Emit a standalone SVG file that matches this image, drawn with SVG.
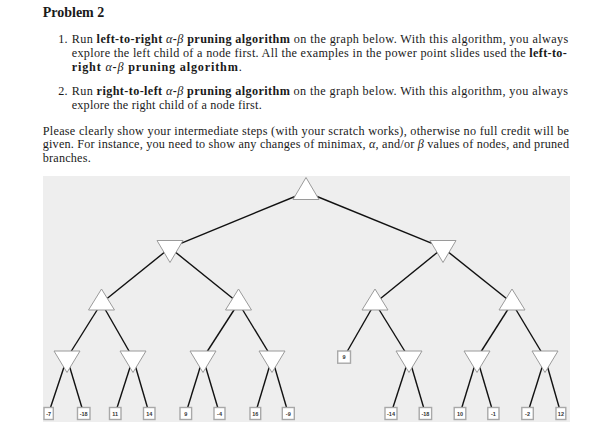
<svg xmlns="http://www.w3.org/2000/svg" width="614" height="434" viewBox="0 0 614 434">
<style>
.t{font-family:"Liberation Serif","Times New Roman",serif;font-size:12.2px;fill:#1a1a1a}
.b{font-weight:bold}
.m{font-style:italic}
.h{font-family:"Liberation Serif","Times New Roman",serif;font-size:14px;font-weight:bold;fill:#1a1a1a}
.max,.min{fill:#ffffff;stroke:#9a9a9a;stroke-width:1}
.leaf rect{fill:#ffffff;stroke:#a8a8a8;stroke-width:1.4}
.leaf text{font-family:"Liberation Sans",Arial,sans-serif;font-size:5.5px;font-weight:bold;fill:#333;text-anchor:middle}
.e{stroke:#111;stroke-width:1.4;fill:none}
</style>
<rect width="614" height="434" fill="#ffffff"/>
<g id="text">
<text class="h" x="42.7" y="16.7">Problem 2</text>
<text class="t" x="58.3" y="42.7">1.</text>
<text class="t" x="71.7" y="42.7" textLength="496.6">Run <tspan class="b">left-to-right</tspan> <tspan class="m">α</tspan><tspan class="b">-</tspan><tspan class="m">β</tspan> <tspan class="b">pruning algorithm</tspan> on the graph below. With this algorithm, you always</text>
<text class="t" x="71.7" y="56.6" textLength="495">explore the left child of a node first. All the examples in the power point slides used the <tspan class="b">left-to-</tspan></text>
<text class="t" x="71.7" y="71" textLength="170"><tspan class="b">right</tspan> <tspan class="m">α</tspan><tspan class="b">-</tspan><tspan class="m">β</tspan> <tspan class="b">pruning algorithm</tspan>.</text>
<text class="t" x="58.3" y="94.7">2.</text>
<text class="t" x="71.7" y="94.7" textLength="496.3">Run <tspan class="b">right-to-left</tspan> <tspan class="m">α</tspan><tspan class="b">-</tspan><tspan class="m">β</tspan> <tspan class="b">pruning algorithm</tspan> on the graph below. With this algorithm, you always</text>
<text class="t" x="71.7" y="108.7" textLength="190">explore the right child of a node first.</text>
<text class="t" x="42.7" y="134.7" textLength="526.3">Please clearly show your intermediate steps (with your scratch works), otherwise no full credit will be</text>
<text class="t" x="42.7" y="148.4" textLength="526.3">given. For instance, you need to show any changes of minimax, <tspan class="m">α</tspan>, and/or <tspan class="m">β</tspan> values of nodes, and pruned</text>
<text class="t" x="42.7" y="162.2" textLength="48">branches.</text>
</g>
<rect id="panel" x="43" y="176" width="527" height="246" fill="#eeeeee"/>
<g id="connectors">
<line class="e" x1="306" y1="192" x2="170" y2="247.8"/>
<line class="e" x1="306" y1="192" x2="443" y2="247.8"/>
<line class="e" x1="170" y1="247.8" x2="101.5" y2="303"/>
<line class="e" x1="170" y1="247.8" x2="238.5" y2="303"/>
<line class="e" x1="443" y1="247.8" x2="375" y2="303"/>
<line class="e" x1="443" y1="247.8" x2="512" y2="303"/>
<line class="e" x1="101.5" y1="303" x2="67" y2="358"/>
<line class="e" x1="101.5" y1="303" x2="133" y2="358"/>
<line class="e" x1="238.5" y1="303" x2="203" y2="358"/>
<line class="e" x1="238.5" y1="303" x2="272" y2="358"/>
<line class="e" x1="375" y1="303" x2="344" y2="357"/>
<line class="e" x1="375" y1="303" x2="409" y2="358"/>
<line class="e" x1="512" y1="303" x2="477" y2="358"/>
<line class="e" x1="512" y1="303" x2="545" y2="358"/>
<line class="e" x1="67" y1="358" x2="48.5" y2="413.5"/>
<line class="e" x1="67" y1="358" x2="83.7" y2="413.5"/>
<line class="e" x1="133" y1="358" x2="115.2" y2="413.5"/>
<line class="e" x1="133" y1="358" x2="149.2" y2="413.5"/>
<line class="e" x1="203" y1="358" x2="185.8" y2="413.5"/>
<line class="e" x1="203" y1="358" x2="219.5" y2="413.5"/>
<line class="e" x1="272" y1="358" x2="255.3" y2="413.5"/>
<line class="e" x1="272" y1="358" x2="288.3" y2="413.5"/>
<line class="e" x1="409" y1="358" x2="391" y2="413.5"/>
<line class="e" x1="409" y1="358" x2="425.4" y2="413.5"/>
<line class="e" x1="477" y1="358" x2="460" y2="413.5"/>
<line class="e" x1="477" y1="358" x2="493.4" y2="413.5"/>
<line class="e" x1="545" y1="358" x2="527.5" y2="413.5"/>
<line class="e" x1="545" y1="358" x2="560.9" y2="413.5"/>
</g>
<g id="root"><polygon class="max" points="306,177.5 293,199.5 319,199.5"/></g>
<g id="minA"><polygon class="min" points="157,240.5 183,240.5 170,262.5"/></g>
<g id="minB"><polygon class="min" points="430,240.5 456,240.5 443,262.5"/></g>
<g id="max1"><polygon class="max" points="101.5,289 88.5,310 114.5,310"/></g>
<g id="max2"><polygon class="max" points="238.5,289 225.5,310 251.5,310"/></g>
<g id="max3"><polygon class="max" points="375,289 362,310 388,310"/></g>
<g id="max4"><polygon class="max" points="512,289 499,310 525,310"/></g>
<g id="min1"><polygon class="min" points="54,351 80,351 67,372.5"/></g>
<g id="min2"><polygon class="min" points="120,351 146,351 133,372.5"/></g>
<g id="min3"><polygon class="min" points="190,351 216,351 203,372.5"/></g>
<g id="min4"><polygon class="min" points="259,351 285,351 272,372.5"/></g>
<g id="min5"><polygon class="min" points="396,351 422,351 409,372.5"/></g>
<g id="min6"><polygon class="min" points="464,351 490,351 477,372.5"/></g>
<g id="min7"><polygon class="min" points="532,351 558,351 545,372.5"/></g>
<g id="leaf9a" class="leaf"><rect x="337.7" y="351" width="12.8" height="12.2"/><text x="344.1" y="359">9</text></g>
<g id="leaf1" class="leaf"><rect x="44" y="407.5" width="9.3" height="12"/><text x="48.6" y="415.5">-7</text></g>
<g id="leaf2" class="leaf"><rect x="77.5" y="407.5" width="12.5" height="12"/><text x="83.7" y="415.5">-18</text></g>
<g id="leaf3" class="leaf"><rect x="109.5" y="407.5" width="11.5" height="12"/><text x="115.2" y="415.5">11</text></g>
<g id="leaf4" class="leaf"><rect x="143.5" y="407.5" width="11.5" height="12"/><text x="149.2" y="415.5">14</text></g>
<g id="leaf5" class="leaf"><rect x="180" y="407.5" width="11.6" height="12"/><text x="185.8" y="415.5">9</text></g>
<g id="leaf6" class="leaf"><rect x="214" y="407.5" width="11" height="12"/><text x="219.5" y="415.5">-4</text></g>
<g id="leaf7" class="leaf"><rect x="250" y="407.5" width="10.7" height="12"/><text x="255.3" y="415.5">16</text></g>
<g id="leaf8" class="leaf"><rect x="282.3" y="407.5" width="12" height="12"/><text x="288.3" y="415.5">-9</text></g>
<g id="leaf9" class="leaf"><rect x="385" y="407.5" width="12" height="12"/><text x="391" y="415.5">-14</text></g>
<g id="leaf10" class="leaf"><rect x="419.2" y="407.5" width="12.4" height="12"/><text x="425.4" y="415.5">-18</text></g>
<g id="leaf11" class="leaf"><rect x="454.2" y="407.5" width="11.6" height="12"/><text x="460" y="415.5">10</text></g>
<g id="leaf12" class="leaf"><rect x="487.8" y="407.5" width="11.2" height="12"/><text x="493.4" y="415.5">-1</text></g>
<g id="leaf13" class="leaf"><rect x="521.8" y="407.5" width="11.5" height="12"/><text x="527.5" y="415.5">-2</text></g>
<g id="leaf14" class="leaf"><rect x="556" y="407.5" width="9.8" height="12"/><text x="560.9" y="415.5">12</text></g>
</svg>
